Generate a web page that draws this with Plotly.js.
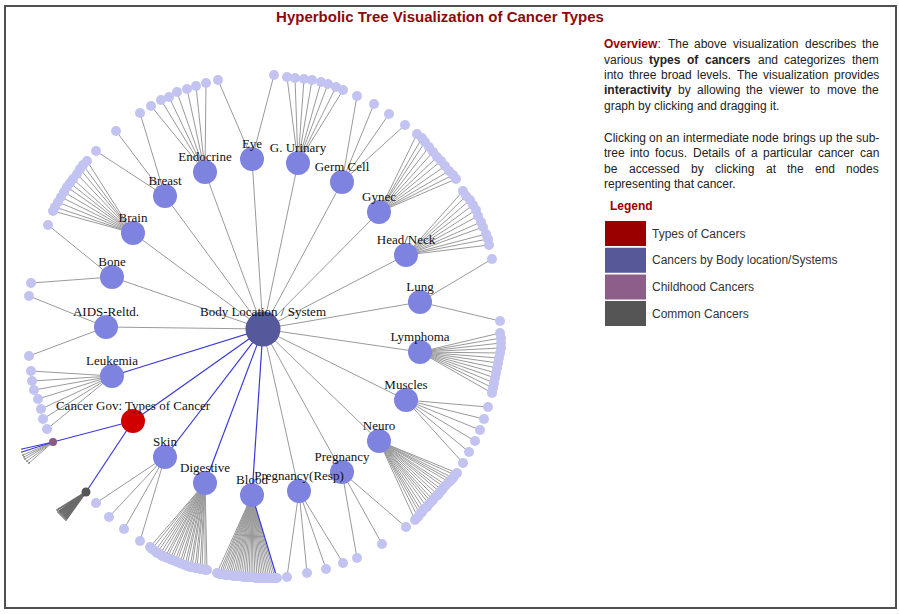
<!DOCTYPE html>
<html><head><meta charset="utf-8">
<script src="https://cdn.plot.ly/plotly-3.0.1.min.js"></script>
<style>html,body{margin:0;padding:0;background:#fff;} #chart{width:899px;height:614px;}</style>
</head><body><div id="chart"></div>
<script>
// ---------------- DATA (tree layout coordinates, root at origin, y downwards) ----------------
const rootName = 'Body Location / System';
const topName = 'Cancer Gov: Types of Cancer';
const topX = -130, topY = 92;
const childhoodX = -210, childhoodY = 113;
const commonX = -177, commonY = 163;

const catNames = ['Eye','G. Urinary','Endocrine','Germ Cell','Breast','Gynec','Brain','Head/Neck','Bone','Lung',
  'AIDS-Reltd.','Lymphoma','Leukemia','Muscles','Skin','Neuro','Pregnancy','Digestive','Pregnancy(Resp)','Blood'];
const catX = [-11, 35, -58, 79, -98, 116, -130, 143, -151, 157, -157, 157, -151, 143, -98, 116, 79, -58, 36, -11];
const catY = [-170, -166, -157, -147, -133, -117, -96, -74, -52, -27, -2, 23, 47, 71, 128, 112, 143, 154, 162, 166];
const pathCats = ['Leukemia','Skin','Digestive','Blood'];

// leaves: parent category, x, y
const leafOf = [
  'Eye','Eye',
  'G. Urinary','G. Urinary','G. Urinary','G. Urinary','G. Urinary','G. Urinary','G. Urinary','G. Urinary',
  'Endocrine','Endocrine','Endocrine','Endocrine','Endocrine','Endocrine','Endocrine',
  'Germ Cell','Germ Cell','Germ Cell','Germ Cell',
  'Breast','Breast','Breast',
  'Gynec','Gynec','Gynec','Gynec','Gynec','Gynec','Gynec','Gynec','Gynec','Gynec','Gynec',
  'Brain','Brain','Brain','Brain','Brain','Brain','Brain','Brain','Brain','Brain','Brain','Brain',
  'Head/Neck','Head/Neck','Head/Neck','Head/Neck','Head/Neck','Head/Neck','Head/Neck','Head/Neck','Head/Neck','Head/Neck','Head/Neck',
  'Bone','Bone',
  'Lung','Lung',
  'AIDS-Reltd.','AIDS-Reltd.',
  'Lymphoma','Lymphoma','Lymphoma','Lymphoma','Lymphoma','Lymphoma','Lymphoma','Lymphoma','Lymphoma','Lymphoma','Lymphoma','Lymphoma','Lymphoma',
  'Leukemia','Leukemia','Leukemia','Leukemia','Leukemia','Leukemia','Leukemia',
  'Muscles','Muscles','Muscles','Muscles','Muscles','Muscles',
  'Skin','Skin','Skin','Skin',
  'Neuro','Neuro','Neuro','Neuro','Neuro','Neuro','Neuro','Neuro','Neuro','Neuro','Neuro','Neuro','Neuro','Neuro','Neuro','Neuro','Neuro','Neuro','Neuro','Neuro',
  'Pregnancy','Pregnancy','Pregnancy',
  'Pregnancy(Resp)','Pregnancy(Resp)','Pregnancy(Resp)','Pregnancy(Resp)',
  'Digestive','Digestive','Digestive','Digestive','Digestive','Digestive','Digestive','Digestive','Digestive','Digestive','Digestive','Digestive',
  'Digestive','Digestive','Digestive','Digestive','Digestive','Digestive','Digestive','Digestive','Digestive','Digestive','Digestive','Digestive',
  'Blood','Blood','Blood','Blood','Blood','Blood','Blood','Blood','Blood','Blood','Blood','Blood','Blood','Blood','Blood','Blood',
  'Blood','Blood','Blood','Blood','Blood','Blood','Blood','Blood','Blood','Blood','Blood','Blood','Blood','Blood','Blood'
];
const leafX = [
  -45, 11,
  24, 32, 41, 49, 58, 65, 73, 80,
  -112, -102, -94, -86, -76, -67, -57,
  94, 111, 126, 142,
  -167, -147, -123,
  154, 159, 162, 166, 170, 174, 178, 182, 186, 190, 193,
  -176, -180, -183, -186, -190, -193, -196, -199, -202, -205, -208, -210,
  200, 203, 207, 210, 213, 215, 218, 220, 223, 225, 226,
  -215, -232,
  229, 237,
  -234, -234,
  237, 238, 238, 238, 237, 236, 235, 234, 233, 232, 231, 230, 229,
  -232, -231, -229, -225, -222, -220, -216,
  225, 221, 217, 212, 206, 200,
  -167, -154, -139, -123,
  194, 192, 190, 188, 186, 183, 181, 179, 177, 175, 172, 170, 168, 166, 164, 161, 159, 157, 155, 152,
  143, 119, 94,
  80, 63, 44, 24,
  -113, -111, -108, -106, -103, -101, -98, -96, -93, -91, -88, -86,
  -83, -81, -78, -76, -73, -71, -68, -66, -63, -61, -58, -56,
  -46, -44, -42, -40, -38, -36, -34, -32, -30, -28, -26, -24, -22, -20, -18, -16,
  -14, -12, -10, -8, -6, -4, -2, 0, 2, 4, 6, 8, 10, 12, 14
];
const leafY = [
  -249, -254,
  -252, -251, -250, -249, -247, -245, -242, -239,
  -223, -229, -232, -237, -240, -243, -246,
  -233, -225, -215, -204,
  -178, -198, -216,
  -195, -191, -187, -182, -177, -172, -168, -163, -158, -154, -150,
  -168, -164, -160, -155, -150, -146, -142, -137, -132, -127, -122, -118,
  -138, -133, -129, -124, -119, -113, -107, -102, -95, -90, -84,
  -104, -46,
  -70, -8,
  -33, 27,
  4, 9, 14, 19, 24, 29, 34, 39, 44, 49, 54, 59, 64,
  42, 52, 61, 70, 80, 90, 100,
  78, 90, 101, 112, 123, 134,
  174, 188, 200, 212,
  144, 146, 149, 151, 153, 156, 158, 161, 163, 166, 168, 171, 173, 175, 178, 180, 183, 185, 188, 191,
  198, 215, 229,
  234, 240, 244, 248,
  218, 220, 222, 224, 225, 227, 228, 229, 230, 231, 232, 233,
  234, 235, 236, 237, 238, 238, 239, 239, 240, 240, 241, 241,
  244, 245, 245, 245, 246, 246, 246, 246, 247, 247, 247, 247, 247, 248, 248, 248,
  248, 248, 248, 249, 249, 249, 249, 249, 249, 249, 249, 249, 249, 249, 249
];
// leaves of "Childhood Cancers" and "Common Cancers"
const childhoodLeafX = [-241, -241, -240, -239, -238, -236, -234];
const childhoodLeafY = [120, 123, 126, 128, 130, 132, 134];
const commonLeafX = [-206, -205, -204, -203, -202, -201, -200, -199, -198, -197];
const commonLeafY = [181, 183, 184, 185, 186, 187, 188, 189, 190, 191];

// right panel text
const panelLines = [
  '~Overview~: The above visualization describes the',
  'various *types* *of* *cancers* and categorizes them',
  'into three broad levels. The visualization provides',
  '*interactivity* by allowing the viewer to move the',
  'graph by clicking and dragging it.',
  'Clicking on an intermediate node brings up the sub-',
  'tree into focus. Details of a particular cancer can',
  'be accessed by clicking at the end nodes',
  'representing that cancer.'
];
const panelJustify = [true, true, true, true, false, true, true, true, false];
const legendLabels = ['Types of Cancers', 'Cancers by Body location/Systems', 'Childhood Cancers', 'Common Cancers'];
const legendColors = ['#9b0000', '#565995', '#8c5e88', '#555555'];

// ---------------- BUILD ----------------
const W = 899, H = 614;
const OX = 263, OY = 329; // pixel position of the root inside the frame
const px = x => x / W, py = y => 1 - y / H;

const catIdx = {}; catNames.forEach((n, i) => catIdx[n] = i);
const gray = {x: [], y: []}, blue = {x: [], y: []}, dark = {x: [], y: []};
function seg(a, x0, y0, x1, y1) { a.x.push(x0, x1, null); a.y.push(y0, y1, null); }

catNames.forEach((n, i) => seg(pathCats.includes(n) ? blue : gray, 0, 0, catX[i], catY[i]));
leafOf.forEach((n, k) => {
  const i = catIdx[n];
  const isLastBlood = (n === 'Blood' && (k === leafOf.length - 1));
  seg(isLastBlood ? blue : gray, catX[i], catY[i], leafX[k], leafY[k]);
});
seg(blue, topX, topY, 0, 0);
seg(blue, topX, topY, childhoodX, childhoodY);
seg(blue, topX, topY, commonX, commonY);
childhoodLeafX.forEach((x, k) => seg(k < 2 ? blue : gray, childhoodX, childhoodY, x, childhoodLeafY[k]));
commonLeafX.forEach((x, k) => seg(dark, commonX, commonY, x, commonLeafY[k]));

const traces = [
  {type: 'scatter', mode: 'lines', x: gray.x, y: gray.y, line: {color: '#9a9a9a', width: 1}, hoverinfo: 'skip'},
  {type: 'scatter', mode: 'lines', x: dark.x, y: dark.y, line: {color: '#6a6a6a', width: 1.6}, hoverinfo: 'skip'},
  {type: 'scatter', mode: 'lines', x: blue.x, y: blue.y, line: {color: '#3a3ad6', width: 1.2}, hoverinfo: 'skip'},
  {type: 'scatter', mode: 'markers', x: leafX, y: leafY, marker: {color: '#c3c3f1', size: 10}, hoverinfo: 'skip'},
  {type: 'scatter', mode: 'markers', x: childhoodLeafX.concat(commonLeafX), y: childhoodLeafY.concat(commonLeafY),
    marker: {color: '#888888', size: 2}, hoverinfo: 'skip'},
  {type: 'scatter', mode: 'markers', x: catX, y: catY, marker: {color: '#7f83e0', size: 24}, hoverinfo: 'skip'},
  {type: 'scatter', mode: 'markers', x: [0], y: [0], marker: {color: '#55589a', size: 35}, hoverinfo: 'skip'},
  {type: 'scatter', mode: 'markers', x: [topX], y: [topY], marker: {color: '#d00000', size: 24}, hoverinfo: 'skip'},
  {type: 'scatter', mode: 'markers', x: [childhoodX], y: [childhoodY], marker: {color: '#8a5a86', size: 8}, hoverinfo: 'skip'},
  {type: 'scatter', mode: 'markers', x: [commonX], y: [commonY], marker: {color: '#555555', size: 9}, hoverinfo: 'skip'},
  {type: 'scatter', mode: 'text',
    x: catX.concat([0, topX]),
    y: catY.map(v => v - 14).concat([-16, topY - 14]),
    text: catNames.concat([rootName, topName]),
    textposition: 'middle center',
    textfont: {family: '"Liberation Serif", "Times New Roman", serif', size: 13, color: '#111111'},
    hoverinfo: 'skip'}
];

// right-panel text, word-justified using canvas measurement
const ctx = document.createElement('canvas').getContext('2d');
function measure(t, bold) { ctx.font = (bold ? 'bold ' : '') + '12px "Liberation Sans"'; return ctx.measureText(t).width; }
const annotations = [];
const L = 604, R = 879;
const lineYs = [44, 59.5, 75, 90.5, 106, 137.5, 153, 168.5, 184];
panelLines.forEach((line, li) => {
  const toks = line.split(' ').map(tok => ({
    html: tok.replace(/~([^~]+)~/g, '<b><span style="color:#9b0000">$1</span></b>').replace(/\*([^*]+)\*/g, '<b>$1</b>'),
    plain: tok.replace(/[~*]/g, ''),
    bold: /[~*]/.test(tok)
  }));
  toks.forEach(t => t.w = measure(t.plain, t.bold));
  const total = toks.reduce((s, t) => s + t.w, 0);
  const gap = panelJustify[li] ? (R - L - total) / (toks.length - 1) : measure(' ', false);
  let x = L;
  toks.forEach(t => {
    annotations.push({xref: 'paper', yref: 'paper', x: px(x), y: py(lineYs[li]), xanchor: 'left', yanchor: 'middle',
      text: t.html, showarrow: false, borderpad: 0, borderwidth: 0,
      font: {family: '"Liberation Sans", Arial, sans-serif', size: 12, color: '#222222'}});
    x += t.w + gap;
  });
});
annotations.push({xref: 'paper', yref: 'paper', x: px(610), y: py(206), xanchor: 'left', yanchor: 'middle',
  text: '<b>Legend</b>', showarrow: false, borderpad: 0, borderwidth: 0,
  font: {family: '"Liberation Sans", Arial, sans-serif', size: 12, color: '#9b0000'}});
const shapes = [];
legendLabels.forEach((lab, i) => {
  const y0 = 221 + i * 26.7;
  shapes.push({type: 'rect', xref: 'paper', yref: 'paper', x0: px(605), x1: px(646), y0: py(y0), y1: py(y0 + 25),
    fillcolor: legendColors[i], line: {width: 0}});
  annotations.push({xref: 'paper', yref: 'paper', x: px(652), y: py(y0 + 12.5), xanchor: 'left', yanchor: 'middle',
    text: lab, showarrow: false, borderpad: 0, borderwidth: 0,
    font: {family: '"Liberation Sans", Arial, sans-serif', size: 12, color: '#333333'}});
});
shapes.push({type: 'rect', xref: 'paper', yref: 'paper', x0: px(5), x1: px(896), y0: py(608), y1: py(6),
  line: {color: '#505050', width: 2}, fillcolor: 'rgba(0,0,0,0)'});

const layout = {
  width: W, height: H,
  margin: {l: 0, r: 0, t: 0, b: 0},
  paper_bgcolor: '#ffffff', plot_bgcolor: '#ffffff',
  showlegend: false,
  title: {text: '<b>Hyperbolic Tree Visualization of Cancer Types</b>', x: 440 / W, xanchor: 'center',
    y: 1 - 16.5 / H, yanchor: 'middle', yref: 'container',
    font: {family: '"Liberation Sans", Arial, sans-serif', size: 15, color: '#8b0a0a'}},
  xaxis: {range: [-OX, W - OX], visible: false, fixedrange: true},
  yaxis: {range: [H - OY, -OY], visible: false, fixedrange: true},
  shapes: shapes,
  annotations: annotations
};
Plotly.newPlot('chart', traces, layout, {staticPlot: true, displayModeBar: false});
</script></body></html>
